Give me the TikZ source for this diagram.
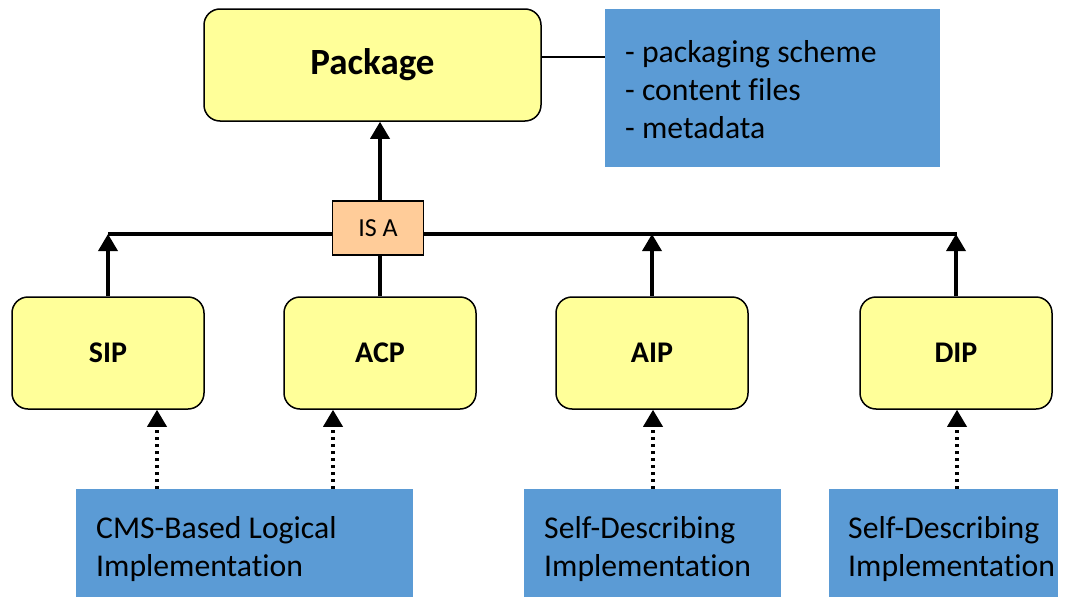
\documentclass[tikz,border=0pt]{standalone}
\usepackage{fontspec}
\setmainfont{Carlito}[RawFeature={-liga}]
\usetikzlibrary{arrows.meta}
\definecolor{boxyellow}{RGB}{255,255,153}
\definecolor{boxblue}{RGB}{91,155,213}
\definecolor{boxorange}{RGB}{255,204,153}
\begin{document}
\begin{tikzpicture}[x=1pt,y=-1pt,
  pkgbox/.style={draw=black, line width=1.5pt, fill=boxyellow, rounded corners=16pt,
    minimum width=192pt, minimum height=112pt, inner sep=0pt,
    font=\fontsize{30}{36}\selectfont\bfseries},
  bluebox/.style={fill=boxblue, inner sep=0pt, anchor=north west},
  infotext/.style={inner sep=0pt, align=left, anchor=west,
    font=\fontsize{31.7}{38}\selectfont},
  isabox/.style={draw=black, line width=1.5pt, fill=boxorange, minimum width=91pt,
    minimum height=54pt, inner sep=0pt, font=\fontsize{26}{30}\selectfont},
  thickline/.style={line width=3.5pt},
  thickarrow/.style={line width=3.5pt, -{Triangle[length=17pt,width=19pt]}},
  dotarrow/.style={line width=3.5pt, dash pattern=on 3.5pt off 3.5pt,
    -{Triangle[length=17pt,width=19pt]}},
  thinline/.style={line width=1.5pt}
]
\useasboundingbox (0,0) rectangle (1074,597);

% top
\node[pkgbox, minimum width=337pt, font=\fontsize{37}{42}\selectfont\bfseries] (pkg) at (372.5,65) {Package};
\node[bluebox, minimum width=335pt, minimum height=158pt] (info) at (605,9) {};
\node[infotext] (infot) at (625,90) {- packaging scheme\\- content files\\- metadata};
\coordinate (c1) at (541,57);
\draw[thinline] (c1) -- (c1 -| info.west);

% bus
\coordinate (busL) at (108,234);
\coordinate (busR) at (957,234);
\draw[thickline] (busL) -- (busR);
\node[isabox] (isa) at (378,228) {IS A};
\coordinate (isaTop) at (380,201);
\draw[thickarrow] (isaTop) -- (isaTop |- pkg.south);

% packages
\node[pkgbox] (sip) at (108,353) {SIP};
\node[pkgbox] (acp) at (380,353) {ACP};
\node[pkgbox] (aip) at (652,353) {AIP};
\node[pkgbox] (dip) at (956,353) {DIP};

\draw[thickarrow] (sip.north) -- (sip.north |- busL);
\draw[thickline] (acp.north) -- (acp.north |- isa.south);
\draw[thickarrow] (aip.north) -- (aip.north |- busL);
\draw[thickarrow] (dip.north) -- (dip.north |- busL);

% implementations
\node[bluebox, minimum width=337pt, minimum height=108pt] (cms) at (76,489) {};
\node[infotext] (cmst) at (96,549) {CMS-Based Logical\\Implementation};
\node[bluebox, minimum width=257pt, minimum height=108pt] (sd1) at (524,489) {};
\node[infotext] (sd1t) at (544,549) {Self-Describing\\Implementation};
\node[bluebox, minimum width=229pt, minimum height=108pt] (sd2) at (829,489) {};
\node[infotext] (sd2t) at (848,549) {Self-Describing\\Implementation};

\coordinate (d1) at (157,489);
\coordinate (d2) at (333,489);
\coordinate (d3) at (653,489);
\coordinate (d4) at (957,489);
\draw[dotarrow] (d1) -- (d1 |- sip.south);
\draw[dotarrow] (d2) -- (d2 |- acp.south);
\draw[dotarrow] (d3) -- (d3 |- aip.south);
\draw[dotarrow] (d4) -- (d4 |- dip.south);
\end{tikzpicture}
\end{document}
